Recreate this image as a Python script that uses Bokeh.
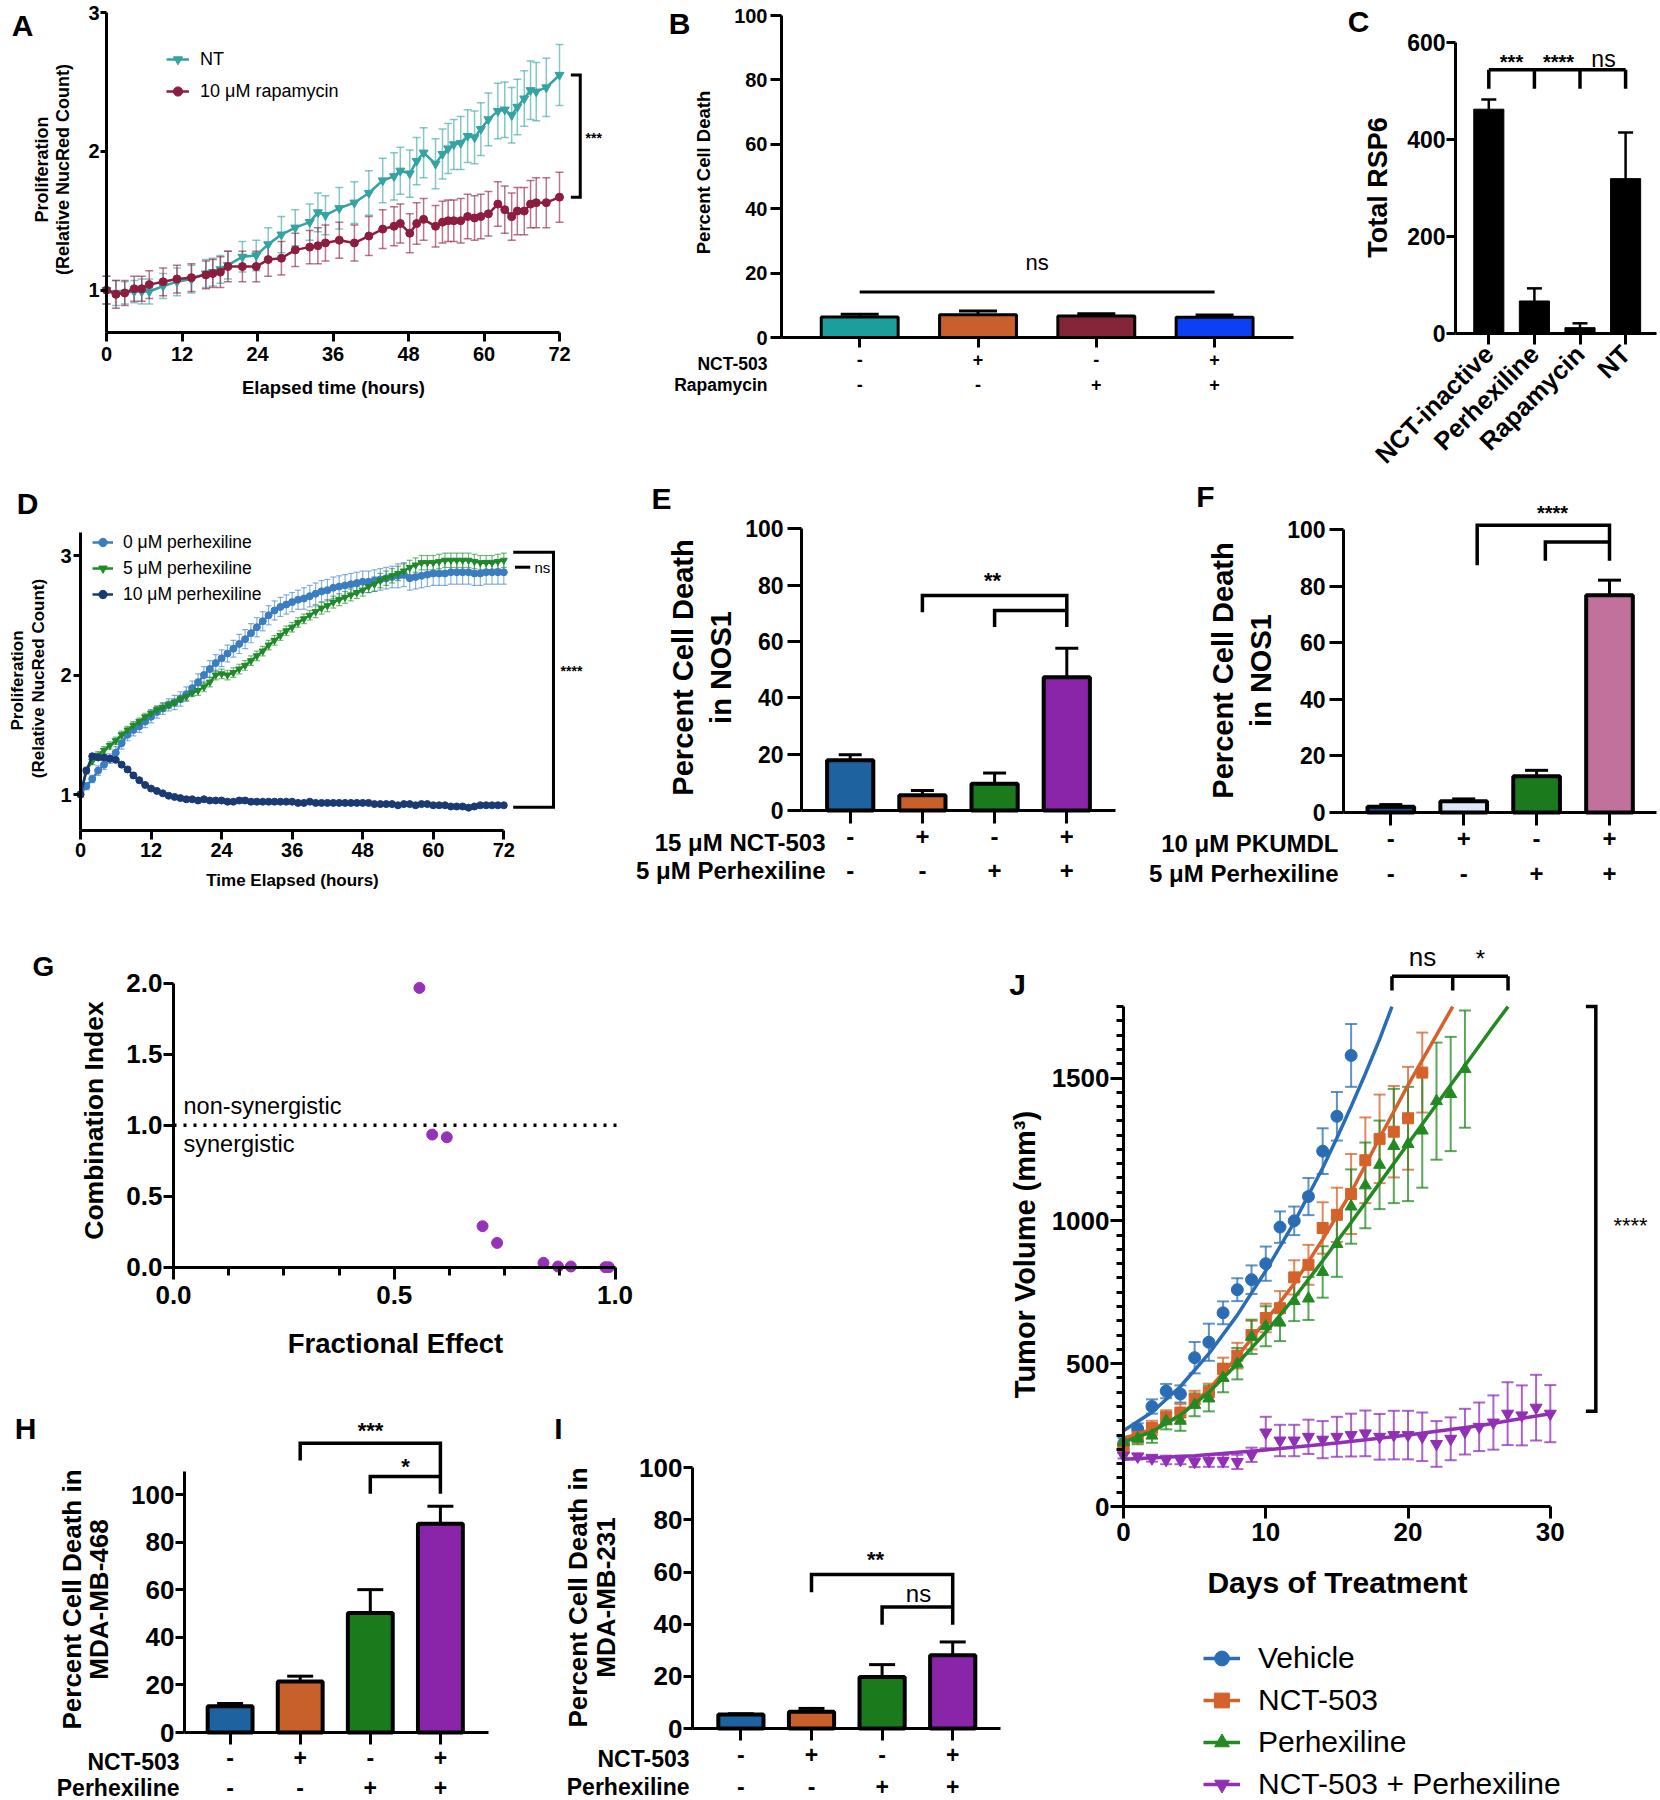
import math
from bokeh.plotting import figure
from bokeh.models import (Range1d, FixedTicker, Label, Legend, LegendItem, Whisker, TeeHead,
                          ColumnDataSource, PrintfTickFormatter)
from bokeh.layouts import row, column
from bokeh.embed import file_html
from bokeh.resources import INLINE

FONT = "Liberation Sans"

# ======================= DATA =======================
# --- A: proliferation, NT vs rapamycin ---
a_time = [0, 1.5, 2.9, 4.4, 5.6, 6.8, 9.0, 11.2, 13.5, 15.8, 16.9, 18.1, 19.3, 21.6, 23.8, 25.7,
          27.8, 30.0, 32.3, 33.6, 34.8, 37.0, 39.4, 41.7, 43.9, 45.7, 46.7, 48.2, 49.3, 50.4, 52.3,
          53.4, 54.3, 55.2, 56.3, 57.4, 58.5, 59.5, 60.7, 62.2, 63.3, 64.4, 65.3, 66.4, 67.4, 68.3,
          69.9, 72.0]
a_nt = [1.00, 0.98, 0.98, 0.99, 0.99, 0.99, 1.03, 1.06, 1.08, 1.12, 1.13, 1.15, 1.18, 1.24, 1.25,
        1.33, 1.40, 1.45, 1.49, 1.56, 1.54, 1.59, 1.63, 1.70, 1.79, 1.82, 1.86, 1.84, 1.93, 1.99,
        1.91, 1.98, 2.02, 2.05, 2.06, 2.11, 2.10, 2.16, 2.23, 2.29, 2.30, 2.26, 2.32, 2.38, 2.44,
        2.43, 2.46, 2.55]
a_nt_err = [0.10, 0.09, 0.08, 0.08, 0.09, 0.09, 0.09, 0.10, 0.10, 0.10, 0.10, 0.10, 0.10, 0.11,
            0.11, 0.12, 0.13, 0.13, 0.13, 0.14, 0.14, 0.15, 0.15, 0.16, 0.16, 0.17, 0.17, 0.17,
            0.17, 0.18, 0.18, 0.18, 0.18, 0.18, 0.19, 0.19, 0.19, 0.19, 0.19, 0.20, 0.20, 0.20,
            0.20, 0.20, 0.21, 0.21, 0.21, 0.22]
a_rapa = [1.00, 0.97, 0.98, 1.01, 1.01, 1.04, 1.06, 1.08, 1.09, 1.11, 1.12, 1.13, 1.17, 1.17, 1.17,
          1.22, 1.23, 1.29, 1.31, 1.32, 1.34, 1.36, 1.34, 1.39, 1.44, 1.46, 1.48, 1.41, 1.48, 1.51,
          1.46, 1.49, 1.50, 1.50, 1.50, 1.53, 1.52, 1.53, 1.55, 1.62, 1.58, 1.53, 1.57, 1.57, 1.62,
          1.63, 1.63, 1.67]
a_rapa_err = [0.10, 0.10, 0.09, 0.09, 0.09, 0.10, 0.10, 0.10, 0.10, 0.10, 0.10, 0.11, 0.11, 0.11,
              0.11, 0.12, 0.12, 0.12, 0.12, 0.13, 0.13, 0.13, 0.13, 0.14, 0.14, 0.14, 0.14, 0.14,
              0.15, 0.15, 0.15, 0.15, 0.15, 0.15, 0.16, 0.16, 0.16, 0.16, 0.16, 0.16, 0.17, 0.17,
              0.17, 0.17, 0.17, 0.18, 0.18, 0.18]

# --- B ---
b_vals = [6.4, 7.1, 6.7, 6.3]
b_err = [0.8, 1.1, 0.7, 0.7]
b_nct = ["-", "+", "-", "+"]
b_rapa = ["-", "-", "+", "+"]

# --- C ---
c_cats = ["NCT-inactive", "Perhexiline", "Rapamycin", "NT"]
c_vals = [462, 67, 12, 319]
c_err = [20, 26, 9, 95]

# --- D ---
d_time = list(range(73))
d_p0 = [1.00, 1.07, 1.13, 1.20, 1.25, 1.30, 1.35, 1.43, 1.50, 1.54,
        1.57, 1.61, 1.65, 1.69, 1.72, 1.75, 1.77, 1.80, 1.84, 1.89,
        1.94, 2.00, 2.05, 2.10, 2.14, 2.18, 2.22, 2.26, 2.30, 2.35,
        2.40, 2.45, 2.50, 2.54, 2.57, 2.59, 2.61, 2.63, 2.64, 2.66,
        2.68, 2.70, 2.71, 2.73, 2.74, 2.75, 2.76, 2.77, 2.78, 2.78,
        2.79, 2.80, 2.81, 2.82, 2.83, 2.84, 2.81, 2.82, 2.83, 2.84,
        2.85, 2.85, 2.85, 2.86, 2.86, 2.86, 2.86, 2.85, 2.85, 2.86,
        2.86, 2.86, 2.86]
d_p0_err = [0.02, 0.03, 0.03, 0.04, 0.04, 0.04, 0.05, 0.05, 0.05, 0.05,
            0.05, 0.05, 0.05, 0.05, 0.05, 0.05, 0.06, 0.06, 0.06, 0.06,
            0.07, 0.07, 0.07, 0.07, 0.07, 0.07, 0.07, 0.08, 0.08, 0.08,
            0.08, 0.08, 0.08, 0.08, 0.08, 0.08, 0.08, 0.08, 0.09, 0.09,
            0.09, 0.09, 0.09, 0.09, 0.09, 0.09, 0.09, 0.09, 0.09, 0.09,
            0.09, 0.09, 0.09, 0.09, 0.10, 0.10, 0.10, 0.10, 0.10, 0.10,
            0.10, 0.10, 0.10, 0.10, 0.10, 0.10, 0.10, 0.10, 0.10, 0.10,
            0.10, 0.10, 0.10]
d_p5 = [1.00, 1.20, 1.28, 1.33, 1.37, 1.41, 1.45, 1.50, 1.54, 1.58,
        1.61, 1.65, 1.68, 1.71, 1.73, 1.75, 1.77, 1.80, 1.82, 1.85,
        1.87, 1.90, 1.94, 2.00, 2.01, 2.00, 2.02, 2.05, 2.08, 2.12,
        2.16, 2.20, 2.25, 2.29, 2.33, 2.37, 2.40, 2.44, 2.47, 2.50,
        2.53, 2.56, 2.58, 2.61, 2.63, 2.65, 2.67, 2.69, 2.71, 2.74,
        2.76, 2.79, 2.81, 2.83, 2.85, 2.87, 2.90, 2.92, 2.94, 2.94,
        2.94, 2.95, 2.96, 2.96, 2.96, 2.96, 2.96, 2.95, 2.94, 2.94,
        2.94, 2.95, 2.96]
d_p5_err = [0.02, 0.03, 0.03, 0.03, 0.03, 0.03, 0.03, 0.03, 0.03, 0.03,
            0.03, 0.03, 0.03, 0.03, 0.03, 0.03, 0.03, 0.03, 0.03, 0.03,
            0.04, 0.04, 0.04, 0.04, 0.04, 0.04, 0.04, 0.04, 0.04, 0.04,
            0.04, 0.04, 0.04, 0.04, 0.04, 0.04, 0.04, 0.04, 0.04, 0.04,
            0.05, 0.05, 0.05, 0.05, 0.05, 0.05, 0.05, 0.05, 0.05, 0.05,
            0.06, 0.06, 0.06, 0.06, 0.06, 0.06, 0.06, 0.06, 0.06, 0.06,
            0.06, 0.06, 0.06, 0.06, 0.06, 0.06, 0.06, 0.06, 0.06, 0.06,
            0.06, 0.06, 0.06]
d_p10 = [1.00, 1.20, 1.32, 1.31, 1.31, 1.30, 1.29, 1.25, 1.21, 1.16,
         1.12, 1.08, 1.05, 1.03, 1.01, 0.99, 0.98, 0.97, 0.96, 0.96,
         0.95, 0.96, 0.95, 0.95, 0.95, 0.94, 0.94, 0.95, 0.95, 0.94,
         0.94, 0.94, 0.94, 0.94, 0.94, 0.94, 0.94, 0.93, 0.93, 0.94,
         0.93, 0.93, 0.93, 0.93, 0.93, 0.93, 0.93, 0.93, 0.93, 0.93,
         0.92, 0.92, 0.92, 0.92, 0.91, 0.92, 0.92, 0.91, 0.92, 0.92,
         0.91, 0.91, 0.91, 0.90, 0.90, 0.90, 0.89, 0.90, 0.91, 0.91,
         0.91, 0.91, 0.91]
d_p10_err = [0.01, 0.02, 0.02, 0.02, 0.02, 0.02, 0.02, 0.02, 0.02, 0.02,
             0.02, 0.01, 0.01, 0.01, 0.01, 0.01, 0.01, 0.01, 0.01, 0.01,
             0.01, 0.01, 0.01, 0.01, 0.01, 0.01, 0.01, 0.02, 0.02, 0.02,
             0.01, 0.01, 0.01, 0.01, 0.01, 0.01, 0.01, 0.01, 0.01, 0.01,
             0.01, 0.01, 0.01, 0.01, 0.01, 0.01, 0.01, 0.01, 0.01, 0.01,
             0.01, 0.01, 0.01, 0.01, 0.01, 0.01, 0.01, 0.01, 0.01, 0.01,
             0.01, 0.01, 0.01, 0.01, 0.01, 0.01, 0.01, 0.01, 0.01, 0.01,
             0.01, 0.01, 0.01]

# --- E ---
e_vals = [17.8, 5.4, 9.5, 47.3]
e_err = [2.0, 1.7, 3.8, 10.3]
e_nct = ["-", "+", "-", "+"]
e_per = ["-", "-", "+", "+"]

# --- F ---
f_vals = [2.0, 4.0, 12.8, 76.8]
f_err = [0.8, 0.8, 2.1, 5.3]
f_pku = ["-", "+", "-", "+"]
f_per = ["-", "-", "+", "+"]

# --- G ---
g_fe = [0.557, 0.586, 0.619, 0.700, 0.733, 0.838, 0.871, 0.900, 0.978, 0.986]
g_ci = [1.967, 0.934, 0.915, 0.289, 0.171, 0.031, 0.005, 0.005, 0.0, 0.0]

# --- H ---
h_vals = [11.0, 21.5, 50.3, 87.8]
h_err = [1.2, 2.2, 9.8, 7.4]
# --- I ---
i_vals = [5.4, 6.4, 19.8, 28.1]
i_err = [0.3, 1.3, 4.7, 5.1]
hi_nct = ["-", "+", "-", "+"]
hi_per = ["-", "-", "+", "+"]

# --- J ---
j_veh_day = list(range(17))
j_veh = [219, 271, 350, 404, 394, 521, 575, 678, 759, 794, 850, 978, 1000, 1085, 1244, 1366, 1579]
j_veh_err = [20, 20, 25, 25, 30, 55, 65, 40, 40, 50, 60, 55, 50, 65, 80, 85, 110]
j_nct_day = list(range(22))
j_nct = [206, 244, 275, 312, 329, 375, 400, 481, 528, 600, 660, 694, 802, 846, 975, 1021, 1094,
         1212, 1287, 1312, 1359, 1519]
j_nct_err = [15, 20, 25, 25, 30, 30, 30, 40, 45, 50, 50, 60, 60, 70, 90, 95, 140, 150, 155, 160,
             180, 140]
j_per_day = list(range(25))
j_per = [225, 238, 248, 300, 300, 356, 378, 450, 500, 594, 631, 644, 719, 728, 821, 919, 1050,
         1124, 1196, 1262, 1269, 1316, 1419, 1444, 1531]
j_per_err = [20, 20, 25, 30, 35, 40, 45, 50, 55, 60, 70, 65, 70, 75, 90, 115, 130, 150, 155, 200,
             200, 200, 205, 200, 205]
j_comb_day = list(range(31))
j_comb = [178, 175, 169, 163, 163, 156, 159, 159, 156, 181, 259, 231, 231, 244, 234, 244, 250,
          256, 244, 250, 250, 244, 219, 237, 262, 279, 294, 325, 319, 346, 325]
j_comb_err = [10, 10, 12, 15, 15, 18, 20, 20, 25, 25, 55, 55, 55, 60, 65, 70, 75, 80, 80, 85, 85,
              85, 80, 75, 80, 85, 95, 110, 105, 115, 100]
# fitted growth curves
j_veh_fit_d = [0, 2, 4, 6, 8, 10, 12, 14, 15, 16, 17, 18, 18.87]
j_veh_fit_v = [265, 330, 420, 535, 670, 825, 995, 1185, 1290, 1400, 1515, 1635, 1750]
j_nct_fit_d = [0, 2, 4, 6, 8, 10, 12, 14, 16, 18, 20, 22, 23.14]
j_nct_fit_v = [238, 270, 318, 410, 525, 650, 780, 935, 1100, 1290, 1475, 1650, 1750]
j_per_fit_d = [0, 2, 4, 6, 8, 10, 12, 14, 16, 18, 20, 22, 24, 26, 27.03]
j_per_fit_v = [225, 262, 320, 400, 500, 610, 730, 860, 994, 1132, 1270, 1407, 1544, 1681, 1750]
j_comb_fit_d = [0, 5, 10, 15, 20, 25, 30]
j_comb_fit_v = [165, 178, 198, 222, 250, 283, 325]
j_names = ["Vehicle", "NCT-503", "Perhexiline", "NCT-503 + Perhexiline"]


# ======================= HELPERS =======================
class Panel:
    """A figure whose plotting frame fills its whole box; axes are pinned inside it."""

    def __init__(self, box, xmap, ymap):
        self.box = box
        bx0, by0, bx1, by1 = box
        xv0, xp0, xv1, xp1 = xmap
        yv0, yp0, yv1, yp1 = ymap
        self.px2x = lambda px: xv0 + (px - xp0) * (xv1 - xv0) / (xp1 - xp0)
        self.px2y = lambda py: yv0 + (py - yp0) * (yv1 - yv0) / (yp1 - yp0)
        p = figure(width=bx1 - bx0, height=by1 - by0, title=None, toolbar_location=None,
                   output_backend="svg",
                   x_range=Range1d(self.px2x(bx0), self.px2x(bx1)),
                   y_range=Range1d(self.px2y(by1), self.px2y(by0)),
                   min_border_left=0, min_border_right=0, min_border_top=0, min_border_bottom=0)
        p.grid.visible = False
        p.outline_line_color = None
        p.background_fill_color = "white"
        p.border_fill_color = "white"
        self.p = p

    def text(self, X, Y, s, size, bold=False, align="center", angle=0.0, xdata=False,
             baseline="middle"):
        bx0, by0, bx1, by1 = self.box
        self.p.add_layout(Label(
            x=(X if xdata else X - bx0), y=by1 - Y,
            x_units=("data" if xdata else "screen"), y_units="screen",
            text=s, text_font=FONT, text_font_size=f"{size}px",
            text_font_style=("bold" if bold else "normal"), text_color="black",
            text_align=align, text_baseline=baseline, angle=angle))

    def legend(self, items, left, top, gw, gh, size, standoff):
        bx0, by0, bx1, by1 = self.box
        bottom = top + gh * len(items)
        lg = Legend(items=[LegendItem(label=t, renderers=r) for t, r in items],
                    location=(left - bx0, by1 - bottom),
                    glyph_width=gw, glyph_height=gh, label_height=gh, spacing=0, padding=0,
                    margin=0, label_standoff=standoff, border_line_color=None,
                    background_fill_alpha=0, label_text_font=FONT,
                    label_text_font_size=f"{size}px", label_text_color="black")
        self.p.add_layout(lg)


def style_axis(ax, ticks, size, tick_out, loc, bounds, minor=None, minor_out=6, lw=3,
               standoff=4, fmt=None, overrides=None, orientation=None):
    ax.fixed_location = loc
    ax.bounds = bounds
    ax.ticker = FixedTicker(ticks=ticks, minor_ticks=(minor or []))
    ax.axis_line_width = lw
    ax.axis_line_color = "black"
    ax.major_tick_line_width = lw
    ax.major_tick_line_color = "black"
    ax.major_tick_in = 0
    ax.major_tick_out = tick_out
    if minor:
        ax.minor_tick_line_width = lw
        ax.minor_tick_line_color = "black"
        ax.minor_tick_in = 0
        ax.minor_tick_out = minor_out
    else:
        ax.minor_tick_line_color = None
    ax.major_label_text_font = FONT
    ax.major_label_text_font_style = "bold"
    ax.major_label_text_font_size = f"{size}px"
    ax.major_label_text_color = "black"
    ax.major_label_standoff = standoff
    if fmt:
        ax.formatter = PrintfTickFormatter(format=fmt)
    if overrides:
        ax.major_label_overrides = overrides
    if orientation is not None:
        ax.major_label_orientation = orientation


def bar_set(P, vals, errs, colors, width, cap, lw=3.5, err_lw=3):
    xs = [1, 2, 3, 4]
    src = ColumnDataSource(dict(x=xs, top=vals, up=[v + e for v, e in zip(vals, errs)],
                                color=colors))
    P.p.add_layout(Whisker(source=src, base="x", upper="up", lower="top", dimension="height",
                           line_color="black", line_width=err_lw,
                           upper_head=TeeHead(size=cap, line_color="black", line_width=err_lw),
                           lower_head=None))
    P.p.vbar(x="x", top="top", bottom=0, width=width, fill_color="color", line_color="black",
             line_width=lw, source=src)


def series(P, x, y, err, color, marker, size, lw=2.5, err_alpha=0.6, cap=8, err_lw=1.5,
           line=True):
    src = ColumnDataSource(dict(x=x, y=y, lo=[a - b for a, b in zip(y, err)],
                                hi=[a + b for a, b in zip(y, err)]))
    P.p.add_layout(Whisker(source=src, base="x", upper="hi", lower="lo", dimension="height",
                           line_color=color, line_alpha=err_alpha, line_width=err_lw,
                           upper_head=TeeHead(size=cap, line_color=color, line_alpha=err_alpha,
                                              line_width=err_lw),
                           lower_head=TeeHead(size=cap, line_color=color, line_alpha=err_alpha,
                                              line_width=err_lw)))
    rl = P.p.line("x", "y", source=src, line_color=color, line_width=lw) if line else None
    rs = P.p.scatter("x", "y", source=src, marker=marker, size=size, fill_color=color,
                     line_color=color)
    return rl, rs


def signs_override(signs):
    return {i + 1: s for i, s in enumerate(signs)}


ROT = math.pi / 2

# ======================= PANEL A =======================
PA = Panel((0, 0, 660, 472), (0, 106, 72, 559), (0.695, 332, 3.0, 12))
style_axis(PA.p.xaxis[0], list(range(0, 73, 12)), 20, 9, 0.695, (0, 72), standoff=5)
style_axis(PA.p.yaxis[0], [1, 2, 3], 20, 6, 0, (0.695, 3.0), standoff=1)
NT_C, RAPA_C = "#35A3A1", "#8C1D3E"
a_l1, a_s1 = series(PA, a_time, a_nt, a_nt_err, NT_C, "inverted_triangle", 9)
a_l2, a_s2 = series(PA, a_time, a_rapa, a_rapa_err, RAPA_C, "circle", 8)
PA.p.line([73.8, 75.3, 75.3, 73.8], [a_nt[-1], a_nt[-1], a_rapa[-1], a_rapa[-1]],
          line_color="black", line_width=3, line_join="miter")
PA.legend([("NT", [a_l1, a_s1]), ("10 μM rapamycin", [a_l2, a_s2])], 166, 43, 23, 32, 18, 11)
PA.text(22, 25, "A", 30, bold=True)
PA.text(41, 169, "Proliferation", 18, bold=True, angle=ROT)
PA.text(62, 169, "(Relative NucRed Count)", 18, bold=True, angle=ROT)
PA.text(333, 387, "Elapsed time (hours)", 18.5, bold=True)
PA.text(585, 137, "***", 14, bold=True, align="left")

# ======================= PANEL B =======================
PB = Panel((660, 0, 1300, 472), (1, 859.2, 2, 977.5), (0, 337, 100, 15))
style_axis(PB.p.xaxis[0], [1, 2, 3, 4], 18, 10, 0, (PB.px2x(781), PB.px2x(1293)), standoff=5,
           overrides=signs_override(b_nct))
style_axis(PB.p.yaxis[0], list(range(0, 101, 20)), 20, 11, PB.px2x(781), (0, 100), standoff=3)
bar_set(PB, b_vals, b_err, ["#1C9E9C", "#C85F2C", "#85253A", "#0B40F5"], 0.65, 38, lw=3, err_lw=3)
PB.p.line([1, 4], [14.1, 14.1], line_color="black", line_width=3)
PB.text(2.5, 262, "ns", 22, xdata=True)
PB.text(679, 23, "B", 30, bold=True)
PB.text(703, 172, "Percent Cell Death", 18.5, bold=True, angle=ROT)
PB.text(767, 363, "NCT-503", 17.5, bold=True, align="right")
PB.text(767, 384, "Rapamycin", 17.5, bold=True, align="right")
for i in range(4):
    PB.text(i + 1, 384, b_rapa[i], 18, bold=True, xdata=True)

# ======================= PANEL C =======================
PC = Panel((1300, 0, 1660, 472), (1, 1488.3, 2, 1533.9), (0, 333, 600, 41.7))
style_axis(PC.p.xaxis[0], [1, 2, 3, 4], 25.5, 11, 0, (PC.px2x(1455), PC.px2x(1656)), standoff=5,
           overrides={i + 1: c for i, c in enumerate(c_cats)}, orientation=math.pi / 4)
style_axis(PC.p.yaxis[0], [0, 200, 400, 600], 23, 9, PC.px2x(1455), (0, 600), standoff=1)
bar_set(PC, c_vals, c_err, ["black"] * 4, 0.66, 15, lw=1, err_lw=2.5)
PC.p.multi_line([[1, 4], [1, 1], [2, 2], [3, 3], [4, 4]],
                [[543, 543], [543, 504], [543, 504], [543, 504], [543, 504]],
                line_color="black", line_width=3.5)
PC.text(1511, 61, "***", 20, bold=True)
PC.text(1558, 61, "****", 20, bold=True)
PC.text(1603, 58, "ns", 23)
PC.text(1358, 21, "C", 30, bold=True)
PC.text(1377, 187, "Total RSP6", 27, bold=True, angle=ROT)

# ======================= PANEL D =======================
PD = Panel((0, 472, 612, 918), (0, 80, 72, 503.3), (0.699, 830, 3.0, 555))
style_axis(PD.p.xaxis[0], list(range(0, 73, 12)), 20, 9, 0.699, (0, 72), standoff=3)
style_axis(PD.p.yaxis[0], [1, 2, 3], 20, 7, 0, (0.699, 3.195), standoff=2)
P0_C, P5_C, P10_C = "#3A7DC0", "#1E8A28", "#1B3A73"
d_l1, d_s1 = series(PD, d_time, d_p0, d_p0_err, P0_C, "circle", 7, cap=6, err_lw=1.2)
d_l2, d_s2 = series(PD, d_time, d_p5, d_p5_err, P5_C, "inverted_triangle", 7, cap=6, err_lw=1.2)
d_l3, d_s3 = series(PD, d_time, d_p10, d_p10_err, P10_C, "circle", 7, cap=6, err_lw=1.2)
PD.p.line([73.6, 80.45, 80.45, 73.6], [3.028, 3.028, 0.894, 0.894], line_color="black",
          line_width=3, line_join="miter")
PD.p.line([73.9, 76.5], [2.902, 2.902], line_color="black", line_width=3)
PD.legend([("0 μM perhexiline", [d_l1, d_s1]), ("5 μM perhexiline", [d_l2, d_s2]),
           ("10 μM perhexiline", [d_l3, d_s3])], 92, 529, 21, 26, 17.5, 10)
PD.text(534, 567, "ns", 15, align="left")
PD.text(571, 670, "****", 14, bold=True)
PD.text(27, 503, "D", 30, bold=True)
PD.text(17, 680, "Proliferation", 17, bold=True, angle=ROT)
PD.text(38, 678, "(Relative NucRed Count)", 17, bold=True, angle=ROT)
PD.text(292, 880, "Time Elapsed (hours)", 17, bold=True)

# ======================= PANEL E =======================
PE = Panel((612, 472, 1125, 918), (1, 849.7, 2, 921.9), (0, 810, 100, 528.3))
style_axis(PE.p.xaxis[0], [1, 2, 3, 4], 24, 13, 0, (PE.px2x(801), PE.px2x(1115)), standoff=4,
           overrides=signs_override(e_nct))
style_axis(PE.p.yaxis[0], list(range(0, 101, 20)), 23, 14, PE.px2x(801), (0, 100), standoff=4)
bar_set(PE, e_vals, e_err, ["#1F62A0", "#C8602B", "#1B7A1B", "#8A24A8"], 0.64, 23, lw=4)
PE.p.line([2, 2, 4, 4], [70.4, 76.3, 76.3, 65.1], line_color="black", line_width=3.5,
          line_join="miter")
PE.p.line([3, 3, 4], [65.1, 71.0, 71.0], line_color="black", line_width=3.5, line_join="miter")
PE.text(992, 580, "**", 22, bold=True)
PE.text(661, 498, "E", 30, bold=True)
PE.text(682, 667, "Percent Cell Death", 29, bold=True, angle=ROT)
PE.text(720, 667, "in NOS1", 29, bold=True, angle=ROT)
PE.text(825, 842, "15 μM NCT-503", 24, bold=True, align="right")
PE.text(825, 870, "5 μM Perhexiline", 24, bold=True, align="right")
for i in range(4):
    PE.text(i + 1, 870, e_per[i], 24, bold=True, xdata=True)

# ======================= PANEL F =======================
PF = Panel((1125, 472, 1660, 918), (1, 1390.3, 2, 1463.2), (0, 812, 100, 529))
style_axis(PF.p.xaxis[0], [1, 2, 3, 4], 24, 13, 0, (PF.px2x(1343), PF.px2x(1656)), standoff=4,
           overrides=signs_override(f_pku))
style_axis(PF.p.yaxis[0], list(range(0, 101, 20)), 23, 14, PF.px2x(1343), (0, 100), standoff=4)
bar_set(PF, f_vals, f_err, ["#1D4F8C", "#DCE7F7", "#1B7A1B", "#C2719C"], 0.64, 23, lw=4)
PF.p.line([2.185, 2.185, 4, 4], [87.4, 101.5, 101.5, 89.0], line_color="black", line_width=3.5,
          line_join="miter")
PF.p.line([3.12, 3.12, 4], [89.0, 95.6, 95.6], line_color="black", line_width=3.5,
          line_join="miter")
PF.text(1552, 512, "****", 20, bold=True)
PF.text(1205, 496, "F", 30, bold=True)
PF.text(1222, 670, "Percent Cell Death", 29, bold=True, angle=ROT)
PF.text(1260, 670, "in NOS1", 29, bold=True, angle=ROT)
PF.text(1338, 843, "10 μM PKUMDL", 24, bold=True, align="right")
PF.text(1338, 873, "5 μM Perhexiline", 24, bold=True, align="right")
for i in range(4):
    PF.text(i + 1, 873, f_per[i], 24, bold=True, xdata=True)

# ======================= PANEL G =======================
PG = Panel((0, 918, 1005, 1395), (0, 173, 1, 614.5), (0, 1266.7, 2, 982.7))
style_axis(PG.p.xaxis[0], [0, 0.5, 1.0], 26, 12, 0, (0, 1),
           minor=[0.125, 0.25, 0.375, 0.625, 0.75, 0.875], minor_out=8, standoff=7, fmt="%.1f")
style_axis(PG.p.yaxis[0], [0, 0.5, 1.0, 1.5, 2.0], 26, 10, 0, (0, 2), standoff=1, fmt="%.1f")
PG.p.line([0, 1.014], [1, 1], line_color="black", line_width=3.5, line_dash="3 7")
PG.p.scatter(g_fe, g_ci, marker="circle", size=11, fill_color="#9632B8", line_color="#9632B8")
PG.text(183, 1105, "non-synergistic", 23.5, align="left")
PG.text(183, 1143, "synergistic", 23.5, align="left")
PG.text(43, 966, "G", 28, bold=True)
PG.text(93, 1120, "Combination Index", 26.5, bold=True, angle=ROT)
PG.text(395, 1343, "Fractional Effect", 27.5, bold=True)

# ======================= PANEL H =======================
PH = Panel((0, 1395, 545, 1800), (1, 229.6, 2, 299.7), (0, 1732, 100, 1494.3))
style_axis(PH.p.xaxis[0], [1, 2, 3, 4], 23, 12, 0, (PH.px2x(184), PH.px2x(488)), standoff=4,
           overrides=signs_override(hi_nct))
style_axis(PH.p.yaxis[0], list(range(0, 101, 20)), 26, 9, PH.px2x(184), (0, 110), standoff=1)
bar_set(PH, h_vals, h_err, ["#1F62A0", "#C8602B", "#1B7A1B", "#8A24A8"], 0.64, 26, lw=4)
PH.p.line([2, 2, 4, 4], [114.4, 121.7, 121.7, 100.4], line_color="black", line_width=3.5,
          line_join="miter")
PH.p.line([3, 3, 4], [100.4, 107.7, 107.7], line_color="black", line_width=3.5, line_join="miter")
PH.text(370, 1430, "***", 22, bold=True)
PH.text(405, 1466, "*", 22, bold=True)
PH.text(25, 1428, "H", 30, bold=True)
PH.text(71, 1599, "Percent Cell Death in", 26, bold=True, angle=ROT)
PH.text(98, 1599, "MDA-MB-468", 26, bold=True, angle=ROT)
PH.text(179, 1761, "NCT-503", 23, bold=True, align="right")
PH.text(179, 1787, "Perhexiline", 23, bold=True, align="right")
for i in range(4):
    PH.text(i + 1, 1787, hi_per[i], 23, bold=True, xdata=True)

# ======================= PANEL I =======================
PI = Panel((545, 1395, 1005, 1800), (1, 740.4, 2, 811.0), (0, 1728, 100, 1467.3))
style_axis(PI.p.xaxis[0], [1, 2, 3, 4], 23, 12, 0, (PI.px2x(692), PI.px2x(1000)), standoff=5,
           overrides=signs_override(hi_nct))
style_axis(PI.p.yaxis[0], list(range(0, 101, 20)), 26, 9, PI.px2x(692), (0, 100), standoff=1)
bar_set(PI, i_vals, i_err, ["#1F62A0", "#C8602B", "#1B7A1B", "#8A24A8"], 0.64, 26, lw=4)
PI.p.line([2, 2, 4, 4], [52.3, 59.1, 59.1, 39.8], line_color="black", line_width=3.5,
          line_join="miter")
PI.p.line([3, 3, 4], [39.8, 46.6, 46.6], line_color="black", line_width=3.5, line_join="miter")
PI.text(875, 1559, "**", 22, bold=True)
PI.text(918, 1593, "ns", 24)
PI.text(558, 1428, "I", 30, bold=True)
PI.text(577, 1597, "Percent Cell Death in", 26, bold=True, angle=ROT)
PI.text(605, 1597, "MDA-MB-231", 26, bold=True, angle=ROT)
PI.text(689, 1758, "NCT-503", 23, bold=True, align="right")
PI.text(689, 1786, "Perhexiline", 23, bold=True, align="right")
for i in range(4):
    PI.text(i + 1, 1786, hi_per[i], 23, bold=True, xdata=True)

# ======================= PANEL J =======================
PJ = Panel((1005, 918, 1660, 1800), (0, 1123, 30, 1549.8), (0, 1506, 1500, 1077.5))
style_axis(PJ.p.xaxis[0], [0, 10, 20, 30], 26, 12, 0, (0, 30), standoff=4)
style_axis(PJ.p.yaxis[0], [0, 500, 1000, 1500], 26, 13, 0, (0, 1750), standoff=1,
           minor=[v for v in range(50, 1751, 50) if v % 500 != 0], minor_out=7)
VEH_C, NCT_C, PER_C, COMB_C = "#2A6DB4", "#D4622A", "#238A23", "#9130B5"
fits = [(j_veh_fit_d, j_veh_fit_v), (j_nct_fit_d, j_nct_fit_v),
        (j_per_fit_d, j_per_fit_v), (j_comb_fit_d, j_comb_fit_v)]
pts = [(j_veh_day, j_veh, j_veh_err, VEH_C, "circle", 12),
       (j_nct_day, j_nct, j_nct_err, NCT_C, "square", 11),
       (j_per_day, j_per, j_per_err, PER_C, "triangle", 12),
       (j_comb_day, j_comb, j_comb_err, COMB_C, "inverted_triangle", 12)]
j_items = []
for (fd, fv), (d, v, e, c, m, s), nm in zip(fits, pts, j_names):
    _, rs = series(PJ, d, v, e, c, m, s, err_alpha=0.75, cap=12, err_lw=2, line=False)
    rl = PJ.p.line(fd, fv, line_color=c, line_width=3.5)
    j_items.append((nm, [rl, rs]))
PJ.p.line([32.5, 33.2, 33.2, 32.5], [1750, 1750, 333, 333], line_color="black", line_width=3.5,
          line_join="miter")
PJ.p.multi_line([[18.87, 27.03], [18.87, 18.87], [23.14, 23.14], [27.03, 27.03]],
                [[1856, 1856], [1856, 1806], [1856, 1806], [1856, 1806]],
                line_color="black", line_width=3.5)
PJ.legend(j_items, 1203, 1637, 37, 42, 30, 18)
PJ.text(1422, 956, "ns", 26)
PJ.text(1480, 958, "*", 24)
PJ.text(1630, 1225, "****", 22)
PJ.text(1017, 984, "J", 30, bold=True)
PJ.text(1024, 1254, "Tumor Volume (mm³)", 29, bold=True, angle=ROT)
PJ.text(1337, 1582, "Days of Treatment", 30, bold=True)

# ======================= LAYOUT =======================
layout = column(
    row(PA.p, PB.p, PC.p),
    row(PD.p, PE.p, PF.p),
    row(column(PG.p, row(PH.p, PI.p)), PJ.p),
)

open("out.html", "w").write(file_html(layout, INLINE))
